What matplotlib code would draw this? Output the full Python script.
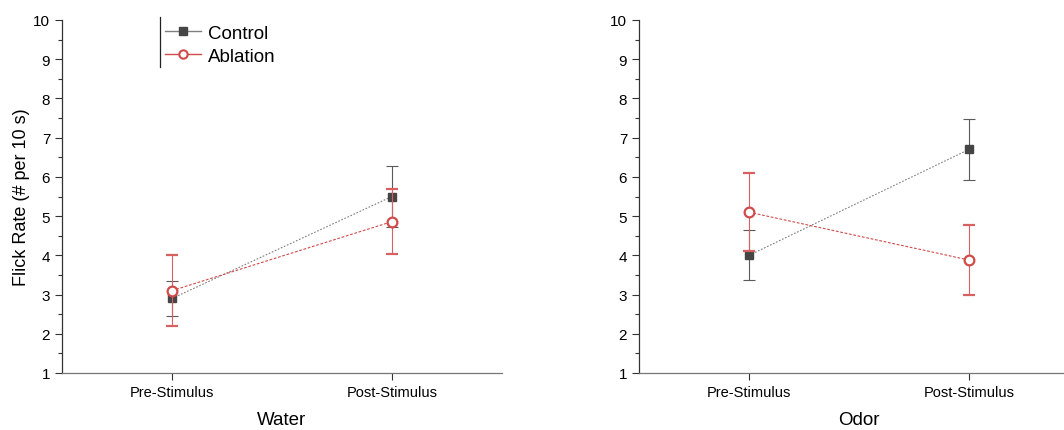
import numpy as np
import matplotlib
matplotlib.use("Agg")
import matplotlib.pyplot as plt
from matplotlib.ticker import MultipleLocator
from matplotlib.lines import Line2D

plt.rcParams['font.family'] = ['Liberation Sans', 'DejaVu Sans']

# data
stages = ["Pre-Stimulus", "Post-Stimulus"]
panels = ["Water", "Odor"]

water_control = [2.9, 5.5]
water_control_err = [0.45, 0.77]
water_ablation = [3.1, 4.86]
water_ablation_err = [0.9, 0.83]

odor_control = [4.0, 6.7]
odor_control_err = [0.64, 0.77]
odor_ablation = [5.1, 3.88]
odor_ablation_err = [1.0, 0.9]

gray_line = '#7f7f7f'
gray_mark = '#454545'
red = '#d24b4b'

fig = plt.figure(figsize=(10.64, 4.31), dpi=100)
ax1 = fig.add_axes([62/1064, 57/431, 440/1064, 353/431])
ax2 = fig.add_axes([639/1064, 57/431, 440/1064, 353/431])

series = [
    (ax1, water_control, water_control_err, water_ablation, water_ablation_err, panels[0]),
    (ax2, odor_control, odor_control_err, odor_ablation, odor_ablation_err, panels[1]),
]

x = np.arange(len(stages))
for ax, ctl, ctl_e, abl, abl_e, name in series:
    ax.errorbar(x, ctl, yerr=ctl_e, color=gray_line, ecolor='#5a5a5a',
                elinewidth=0.8, capsize=4.5, capthick=0.8, linestyle=(0, (1.5, 1.5)),
                linewidth=0.8, marker='s', markersize=6, markerfacecolor=gray_mark,
                markeredgecolor=gray_mark, zorder=3)
    ax.errorbar(x, abl, yerr=abl_e, color=red, ecolor='#d86060',
                elinewidth=0.8, capsize=4.5, capthick=0.6, linestyle=(0, (2.5, 1.5)),
                linewidth=0.8, marker='o', markersize=7, markerfacecolor='white',
                markeredgecolor=red, markeredgewidth=1.6, zorder=4)

    ax.set_xlim(-0.5, 1.5)
    ax.set_ylim(1, 10)
    ax.set_xticks(x)
    ax.set_xticklabels(stages, fontsize=10.5)
    ax.set_xlabel(name, fontsize=13.5, labelpad=8)
    ax.yaxis.set_major_locator(MultipleLocator(1))
    ax.yaxis.set_minor_locator(MultipleLocator(0.5))
    ax.tick_params(axis='y', which='major', length=5, width=0.8, labelsize=11, color='#333333')
    ax.tick_params(axis='y', which='minor', length=3, width=0.8, color='#333333')
    ax.tick_params(axis='x', length=5, width=0.8, color='#333333', pad=4)
    for s in ['top', 'right']:
        ax.spines[s].set_visible(False)
    ax.spines['left'].set_color('#333333')
    ax.spines['bottom'].set_color('#777777')
    ax.spines['left'].set_linewidth(0.9)
    ax.spines['bottom'].set_linewidth(0.9)

ax1.set_ylabel('Flick Rate (# per 10 s)', fontsize=13, labelpad=2)

handles = [
    Line2D([], [], color=gray_line, linewidth=1.0, marker='s', markersize=6,
           markerfacecolor=gray_mark, markeredgecolor=gray_mark),
    Line2D([], [], color=red, linewidth=1.0, marker='o', markersize=6,
           markerfacecolor='white', markeredgecolor=red, markeredgewidth=1.5),
]
ax1.legend(handles, ['Control', 'Ablation'], loc='upper left',
           bbox_to_anchor=(0.218, 1.008), frameon=False, fontsize=13.5,
           handlelength=1.9, handletextpad=0.35, labelspacing=0.3, borderaxespad=0)
ax1.plot([0.2227, 0.2227], [0.867, 1.008], color='#222222', linewidth=0.9,
         transform=ax1.transAxes, clip_on=False)

fig.savefig('out.png', dpi=100)
